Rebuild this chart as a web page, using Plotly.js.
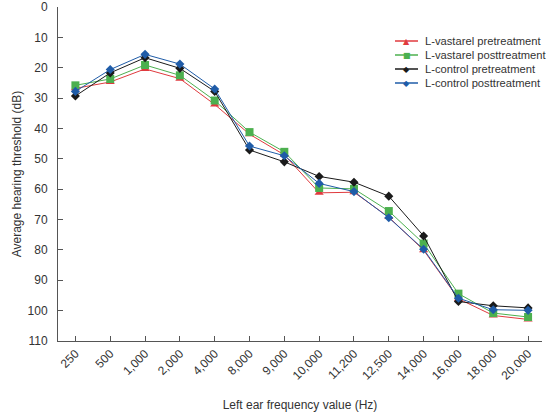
<!DOCTYPE html>
<html>
<head>
<meta charset="utf-8">
<script src="https://cdn.plot.ly/plotly-3.0.1.min.js"></script>
<style>html,body{margin:0;padding:0;background:#fff;}#chart{width:547px;height:415px;}</style>
</head>
<body>
<div id="chart"></div>
<script>
const categories = ["250","500","1,000","2,000","4,000","8,000","9,000","10,000","11,200","12,500","14,000","16,000","18,000","20,000"];
const vastarelPre  = [26.8, 24.7, 20.4, 23.6, 32.1, 41.9, 48.7, 61.2, 61.0, 69.2, 80.1, 96.1, 101.6, 102.9];
const vastarelPost = [25.8, 23.7, 19.1, 22.5, 30.8, 41.2, 47.7, 59.6, 59.9, 67.2, 77.9, 94.4, 100.8, 102.1];
const controlPre   = [29.3, 21.7, 16.7, 20.2, 27.8, 47.1, 51.0, 55.8, 57.7, 62.3, 75.4, 97.0, 98.4, 99.1];
const controlPost  = [27.8, 20.6, 15.6, 18.8, 27.0, 45.8, 49.0, 58.1, 60.8, 69.4, 79.8, 95.9, 99.7, 99.9];
const seriesNames = ["L-vastarel pretreatment","L-vastarel posttreatment","L-control pretreatment","L-control posttreatment"];
const seriesColors = ['#e03a3e', '#4cb04f', '#1a1a1a', '#1f5ca8'];
const seriesGlyphs = ['▲', '■', '◆', '◆'];
const yTicks = [0,10,20,30,40,50,60,70,80,90,100,110];

const font = "Liberation Sans, Arial, sans-serif";
const txt = '#333';
const idx = categories.map((c,i)=>i);
function tr(y, name, color, symbol, size){
  return {x: idx, y: y, name: name, type: 'scatter', mode: 'lines+markers',
    line: {color: color, width: 1}, marker: {color: color, symbol: symbol, size: size}};
}
const data = [
  tr(vastarelPre, seriesNames[0], seriesColors[0], 'triangle-up', 8),
  tr(vastarelPost, seriesNames[1], seriesColors[1], 'square', 8),
  tr(controlPre, seriesNames[2], seriesColors[2], 'diamond', 7),
  tr(controlPost, seriesNames[3], seriesColors[3], 'diamond', 7)
];

// compact legend drawn with shapes + annotations
const W = 547, H = 415, mL = 58, mR = 5, mT = 7, mB = 74;
const pw = W - mL - mR, ph = H - mT - mB;
const px = x => (x - mL) / pw;
const py = y => 1 - (y - mT) / ph;
const legRows = [41, 55, 69, 83];
const shapes = [], annotations = [];
seriesNames.forEach((n, i) => {
  const yy = py(legRows[i]);
  shapes.push({type: 'line', xref: 'paper', yref: 'paper', x0: px(395), x1: px(418), y0: yy, y1: yy,
    line: {color: seriesColors[i], width: 1.5}});
  annotations.push({xref: 'paper', yref: 'paper', x: px(406.5), y: yy, text: seriesGlyphs[i], showarrow: false,
    xanchor: 'center', yanchor: 'middle', font: {family: 'DejaVu Sans', size: 8, color: seriesColors[i]}});
  annotations.push({xref: 'paper', yref: 'paper', x: px(423), y: yy, text: n, showarrow: false,
    xanchor: 'left', yanchor: 'middle', font: {family: font, size: 11.2, color: txt}});
});

const layout = {
  width: W, height: H,
  margin: {l: mL, r: mR, t: mT, b: mB},
  paper_bgcolor: '#fff', plot_bgcolor: '#fff',
  font: {family: font, size: 12, color: txt},
  showlegend: false,
  shapes: shapes, annotations: annotations,
  xaxis: {
    range: [-0.5, 13.4], tickmode: 'array', tickvals: idx, ticktext: categories,
    tickangle: -45, ticks: 'inside', ticklen: 5, tickcolor: '#555',
    showline: true, linecolor: '#555', linewidth: 1, showgrid: false, zeroline: false,
    tickfont: {family: font, size: 12, color: txt},
    title: {text: 'Left ear frequency value (Hz)', font: {family: font, size: 12, color: txt}, standoff: 18}
  },
  yaxis: {
    range: [110, 0], tickmode: 'array', tickvals: yTicks,
    ticks: 'inside', ticklen: 5, tickcolor: '#555', ticklabeloverflow: 'allow', ticklabelstandoff: 7,
    showline: true, linecolor: '#555', linewidth: 1, showgrid: false, zeroline: false,
    tickfont: {family: font, size: 12, color: txt},
    title: {text: 'Average hearing threshold (dB)', font: {family: font, size: 12, color: txt}, standoff: 3}
  }
};
Plotly.newPlot('chart', data, layout, {displayModeBar: false, staticPlot: true});
</script>
</body>
</html>
